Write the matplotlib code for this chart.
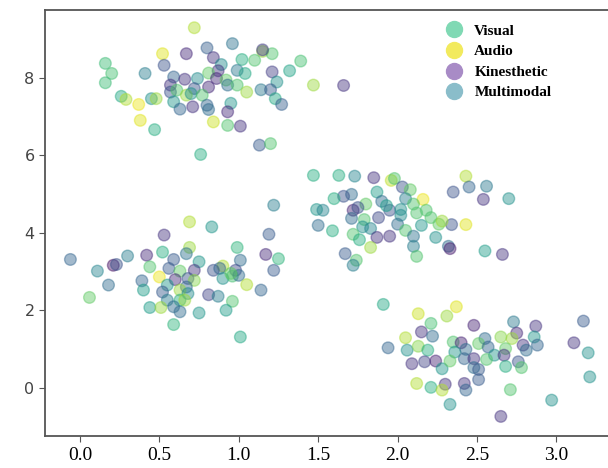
import numpy as np
import matplotlib.pyplot as plt
from matplotlib.lines import Line2D

# points: x, y, colour value (viridis 0..1)
x = [
    # top-left cluster
    0.72, 0.96, 0.80, 0.52, 0.67, 0.84, 1.15, 1.21, 1.02, 1.10, 1.39, 0.16, 0.53, 0.89, 1.32,
    0.20, 0.41, 0.87, 0.99, 1.04, 1.21, 0.81, 0.59, 0.66, 0.86, 0.74, 0.92, 1.24, 1.47, 0.16,
    0.57, 0.72, 0.81, 0.93, 0.99, 1.05, 1.14, 1.20, 0.57, 0.61, 0.67, 0.70, 0.77, 0.26, 0.29,
    0.37, 0.45, 0.48, 0.59, 0.63, 0.71, 0.80, 0.81, 0.95, 0.93, 1.23, 1.27, 0.38, 0.84, 0.93,
    1.01, 0.47, 1.13, 1.20, 0.76, 1.66, 1.15,
    # lower-left cluster
    1.22, 0.69, 0.83, 0.53, 1.19, 0.69, 0.99, 0.52, 0.67, -0.06, 0.30, 0.42, 1.17, 1.25, 0.21,
    0.44, 0.59, 0.75, 0.90, 1.01, 0.11, 0.56, 0.63, 0.72, 0.84, 0.88, 0.98, 1.22, 0.50, 0.60,
    0.68, 0.72, 0.90, 0.96, 1.00, 1.05, 0.39, 0.18, 0.55, 0.67, 1.14, 0.40, 0.06, 0.52, 0.63,
    0.68, 0.81, 0.87, 0.96, 0.55, 0.63, 0.66, 0.44, 0.51, 0.59, 0.63, 0.75, 0.92, 0.59, 1.01,
    0.23, 0.95,
    # middle cluster
    1.47, 1.63, 1.73, 1.85, 1.96, 1.98, 2.43, 2.56, 2.45, 2.35, 2.03, 2.08, 1.87, 2.70, 2.54,
    2.16, 2.05, 1.71, 1.66, 1.60, 1.90, 1.80, 2.10, 1.49, 1.53, 1.72, 1.75, 1.95, 2.02, 2.12,
    2.18, 1.71, 1.79, 1.88, 2.02, 2.21, 1.50, 1.59, 1.78, 1.83, 2.00, 2.15, 2.26, 2.34, 2.43,
    1.72, 1.87, 1.95, 2.05, 2.10, 1.76, 2.24, 1.83, 2.10, 2.32, 2.33, 2.55, 2.66, 1.67, 2.12,
    1.74, 1.72, 1.93, 2.28,
    # bottom-right cluster
    1.91, 2.37, 2.13, 2.31, 2.21, 2.73, 2.87, 3.17, 2.48, 2.15, 2.22, 2.75, 2.65, 2.86, 2.05,
    2.35, 2.40, 2.55, 2.72, 2.79, 2.88, 3.11, 1.94, 2.06, 2.13, 2.19, 2.36, 2.43, 2.51, 2.57,
    2.61, 2.68, 2.81, 3.20, 2.09, 2.17, 2.24, 2.28, 2.33, 2.42, 2.48, 2.56, 2.67, 2.76, 2.78,
    2.68, 2.48, 2.51, 3.21, 2.51, 2.12, 2.21, 2.30, 2.42, 2.43, 2.71, 2.28, 2.33, 2.97, 2.65,
]
y = [
    9.29, 8.88, 8.77, 8.62, 8.62, 8.52, 8.68, 8.62, 8.47, 8.45, 8.43, 8.37, 8.32, 8.34, 8.18,
    8.11, 8.11, 8.18, 8.19, 8.11, 8.15, 8.12, 8.02, 7.96, 7.98, 7.98, 7.94, 7.89, 7.81, 7.87,
    7.81, 7.72, 7.76, 7.81, 7.81, 7.63, 7.69, 7.69, 7.63, 7.68, 7.55, 7.59, 7.55, 7.52, 7.44,
    7.31, 7.46, 7.46, 7.38, 7.19, 7.25, 7.29, 7.18, 7.34, 7.12, 7.46, 7.31, 6.90, 6.86, 6.77,
    6.75, 6.66, 6.26, 6.30, 6.02, 7.80, 8.72,
    4.71, 4.28, 4.15, 3.94, 3.96, 3.62, 3.62, 3.50, 3.46, 3.31, 3.40, 3.42, 3.44, 3.33, 3.16,
    3.12, 3.31, 3.25, 3.14, 3.29, 3.01, 3.08, 3.01, 3.03, 3.03, 3.08, 3.03, 3.03, 2.86, 2.79,
    2.82, 2.77, 2.82, 2.88, 2.90, 2.66, 2.76, 2.65, 2.65, 2.60, 2.52, 2.52, 2.33, 2.47, 2.52,
    2.43, 2.40, 2.36, 2.23, 2.26, 2.26, 2.26, 2.07, 2.07, 2.09, 1.96, 1.93, 2.00, 1.63, 1.31,
    3.18, 2.95,
    5.48, 5.48, 5.46, 5.42, 5.35, 5.40, 5.46, 5.20, 5.18, 5.05, 5.18, 5.11, 5.05, 4.88, 4.86,
    4.86, 4.88, 4.99, 4.94, 4.88, 4.81, 4.74, 4.74, 4.60, 4.58, 4.58, 4.65, 4.58, 4.60, 4.51,
    4.58, 4.37, 4.34, 4.39, 4.45, 4.39, 4.19, 4.05, 4.15, 4.11, 4.22, 4.19, 4.22, 4.21, 4.21,
    3.96, 3.88, 3.91, 4.06, 3.91, 3.82, 3.88, 3.62, 3.65, 3.65, 3.59, 3.53, 3.44, 3.46, 3.39,
    3.29, 3.16, 4.70, 4.30,
    2.15, 2.09, 1.91, 1.85, 1.66, 1.70, 1.59, 1.72, 1.61, 1.44, 1.33, 1.41, 1.31, 1.31, 1.29,
    1.18, 1.16, 1.27, 1.27, 1.10, 1.10, 1.16, 1.03, 0.97, 1.07, 0.97, 0.92, 0.99, 1.14, 1.05,
    0.84, 1.01, 0.97, 0.90, 0.62, 0.67, 0.69, 0.49, 0.69, 0.75, 0.75, 0.73, 0.84, 0.67, 0.52,
    0.55, 0.52, 0.47, 0.28, 0.21, 0.11, 0.01, 0.09, 0.11, -0.06, -0.05, -0.06, -0.43, -0.32, -0.74,
]
c = [
    0.88, 0.38, 0.30, 0.95, 0.12, 0.15, 0.85, 0.72, 0.62, 0.72, 0.70, 0.68, 0.25, 0.48, 0.58,
    0.70, 0.42, 0.15, 0.40, 0.60, 0.18, 0.75, 0.32, 0.15, 0.12, 0.48, 0.75, 0.50, 0.85, 0.68,
    0.15, 0.25, 0.12, 0.35, 0.72, 0.85, 0.40, 0.28, 0.25, 0.72, 0.85, 0.50, 0.72, 0.60, 0.88,
    0.97, 0.50, 0.85, 0.52, 0.32, 0.15, 0.32, 0.35, 0.52, 0.12, 0.60, 0.30, 0.95, 0.92, 0.72,
    0.15, 0.62, 0.28, 0.72, 0.62, 0.15, 0.18,
    0.42, 0.88, 0.52, 0.15, 0.28, 0.85, 0.65, 0.62, 0.38, 0.32, 0.42, 0.12, 0.12, 0.65, 0.05,
    0.72, 0.28, 0.52, 0.88, 0.35, 0.45, 0.28, 0.75, 0.15, 0.25, 0.32, 0.22, 0.28, 0.97, 0.12,
    0.25, 0.82, 0.50, 0.70, 0.35, 0.88, 0.32, 0.35, 0.52, 0.32, 0.32, 0.55, 0.75, 0.28, 0.85,
    0.48, 0.20, 0.42, 0.72, 0.42, 0.62, 0.85, 0.55, 0.85, 0.35, 0.35, 0.52, 0.55, 0.65, 0.60,
    0.25, 0.75,
    0.62, 0.62, 0.45, 0.15, 0.90, 0.72, 0.88, 0.40, 0.32, 0.25, 0.25, 0.75, 0.55, 0.50, 0.15,
    0.97, 0.42, 0.35, 0.25, 0.62, 0.35, 0.75, 0.72, 0.52, 0.45, 0.10, 0.25, 0.25, 0.50, 0.72,
    0.72, 0.35, 0.72, 0.22, 0.48, 0.72, 0.35, 0.62, 0.50, 0.45, 0.35, 0.52, 0.75, 0.25, 0.95,
    0.72, 0.15, 0.15, 0.72, 0.38, 0.62, 0.50, 0.85, 0.42, 0.35, 0.08, 0.55, 0.15, 0.28, 0.72,
    0.72, 0.42, 0.55, 0.85,
    0.60, 0.95, 0.92, 0.85, 0.70, 0.40, 0.15, 0.28, 0.10, 0.15, 0.35, 0.12, 0.82, 0.52, 0.88,
    0.72, 0.10, 0.35, 0.85, 0.15, 0.32, 0.15, 0.32, 0.50, 0.82, 0.62, 0.52, 0.35, 0.75, 0.32,
    0.52, 0.75, 0.35, 0.50, 0.15, 0.20, 0.10, 0.52, 0.75, 0.32, 0.15, 0.72, 0.15, 0.25, 0.72,
    0.62, 0.35, 0.28, 0.50, 0.28, 0.88, 0.62, 0.15, 0.15, 0.32, 0.72, 0.88, 0.50, 0.50, 0.15,
]

styles = ['Visual', 'Audio', 'Kinesthetic', 'Multimodal']
style_colors = ['#80d9b4', '#f2ea5e', '#a88bc6', '#8abdca']

plt.figure(figsize=(6.08, 4.68), dpi=100)
ax = plt.axes([0.074, 0.068, 0.93, 0.91])
ax.scatter(x, y, c=c, cmap='viridis', vmin=0, vmax=1, s=70, alpha=0.45,
           edgecolors='face', linewidths=1)

ax.set_xlim(-0.22, 3.34)
ax.set_ylim(-1.25, 9.74)
ax.set_xticks([0.0, 0.5, 1.0, 1.5, 2.0, 2.5, 3.0])
ax.set_xticklabels(['0.0', '0.5', '1.0', '1.5', '2.0', '2.5', '3.0'],
                   family='Liberation Serif', fontsize=14)
ax.set_yticks([0, 2, 4, 6, 8])
ax.tick_params(axis='y', labelsize=11.5, labelcolor='#444444', color='#555555', length=4)
ax.tick_params(axis='x', color='#555555', length=4)
for sp in ax.spines.values():
    sp.set_color('#555555')
    sp.set_linewidth(1.3)

handles = [Line2D([], [], marker='o', linestyle='none', markersize=11.5,
                  markerfacecolor=col, markeredgecolor=col) for col in style_colors]
ax.legend(handles, styles, loc='upper right', bbox_to_anchor=(0.92, 1.0), frameon=False,
          handletextpad=0.3, labelspacing=0.45,
          prop={'family': 'Liberation Serif', 'weight': 'bold', 'size': 11})

plt.savefig('out.png', dpi=100)
